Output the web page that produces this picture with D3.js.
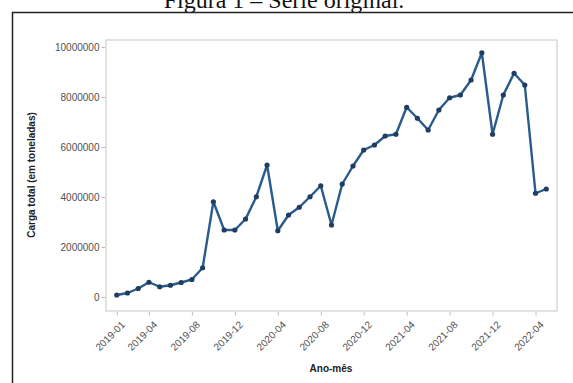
<!DOCTYPE html>
<html>
<head>
<meta charset="utf-8">
<script src="https://cdn.jsdelivr.net/npm/d3@7"></script>
<style>
  html, body { margin: 0; padding: 0; background: #fff; }
  svg { display: block; }
</style>
</head>
<body>
<svg id="chart" width="573" height="383"></svg>
<script>
// Monthly total cargo, Jan 2019 – May 2022
const months = [
  "2019-01","2019-02","2019-03","2019-04","2019-05","2019-06","2019-07","2019-08","2019-09","2019-10","2019-11","2019-12",
  "2020-01","2020-02","2020-03","2020-04","2020-05","2020-06","2020-07","2020-08","2020-09","2020-10","2020-11","2020-12",
  "2021-01","2021-02","2021-03","2021-04","2021-05","2021-06","2021-07","2021-08","2021-09","2021-10","2021-11","2021-12",
  "2022-01","2022-02","2022-03","2022-04","2022-05"
];
const cargo = [
  80000, 160000, 340000, 590000, 410000, 470000, 580000, 700000, 1170000, 3810000, 2680000, 2680000,
  3120000, 4010000, 5280000, 2650000, 3280000, 3590000, 4010000, 4450000, 2880000, 4520000, 5240000, 5880000,
  6080000, 6440000, 6510000, 7590000, 7150000, 6680000, 7480000, 7970000, 8080000, 8680000, 9770000, 6510000,
  8080000, 8950000, 8480000, 4150000, 4320000
];
const xTicks = ["2019-01","2019-04","2019-08","2019-12","2020-04","2020-08","2020-12","2021-04","2021-08","2021-12","2022-04"];
const yTicks = [0, 2000000, 4000000, 6000000, 8000000, 10000000];

const title = "Figura 1 – Série original.";
const xTitle = "Ano-mês";
const yTitle = "Carga total (em toneladas)";

const svg = d3.select("#chart");
const panel = { left: 106, right: 557, top: 40, bottom: 311 };

// caption sitting above the framed figure
svg.append("text")
  .attr("x", 284).attr("y", 8)
  .attr("text-anchor", "middle")
  .attr("font-family", "'Liberation Serif', 'Times New Roman', serif")
  .attr("font-size", 24)
  .attr("fill", "#111")
  .text(title);

// frame around the figure
svg.append("rect")
  .attr("x", 12.5).attr("y", 12.5)
  .attr("width", 620).attr("height", 420)
  .attr("fill", "none")
  .attr("stroke", "#222")
  .attr("stroke-width", 1.5);

const x = d3.scalePoint()
  .domain(months)
  .range([panel.left, panel.right])
  .padding(1);

const y = d3.scaleLinear()
  .domain([0, 10000000])
  .range([297, 47]);

// panel border
svg.append("rect")
  .attr("x", panel.left).attr("y", panel.top)
  .attr("width", panel.right - panel.left)
  .attr("height", panel.bottom - panel.top)
  .attr("fill", "#fff")
  .attr("stroke", "#cfcfcf")
  .attr("stroke-width", 1.2);

const font = "'Liberation Sans', Arial, sans-serif";

// y axis
const gy = svg.append("g")
  .attr("transform", `translate(${panel.left - 1},0)`)
  .call(d3.axisLeft(y).tickValues(yTicks).tickFormat(d3.format("d")).tickSize(3.5).tickPadding(2));
gy.select(".domain").remove();
gy.selectAll(".tick line").attr("stroke", "#bdbdbd");
gy.selectAll(".tick text")
  .attr("font-family", font).attr("font-size", 10).attr("fill", "#505050");

// x axis
const gx = svg.append("g")
  .attr("transform", `translate(0,${panel.bottom + 1})`)
  .call(d3.axisBottom(x).tickValues(xTicks).tickSize(3.5).tickPadding(2));
gx.select(".domain").remove();
gx.selectAll(".tick line").attr("stroke", "#bdbdbd");
gx.selectAll(".tick text")
  .attr("font-family", font).attr("font-size", 10).attr("fill", "#505050")
  .attr("text-anchor", "end")
  .attr("dy", "0.35em")
  .attr("transform", "translate(2,7) rotate(-45)");

// axis titles
svg.append("text")
  .attr("x", 331).attr("y", 372)
  .attr("text-anchor", "middle")
  .attr("font-family", font).attr("font-size", 10).attr("font-weight", "bold")
  .attr("fill", "#222")
  .text(xTitle);

svg.append("text")
  .attr("transform", "translate(35,175) rotate(-90)")
  .attr("text-anchor", "middle")
  .attr("font-family", font).attr("font-size", 10).attr("font-weight", "bold")
  .attr("fill", "#222")
  .text(yTitle);

// series
const line = d3.line()
  .x((d, i) => x(months[i]))
  .y(d => y(d));

svg.append("path")
  .datum(cargo)
  .attr("fill", "none")
  .attr("stroke", "#2a5b8c")
  .attr("stroke-width", 2.4)
  .attr("stroke-linejoin", "round")
  .attr("d", line);

svg.append("g").selectAll("circle")
  .data(cargo)
  .join("circle")
  .attr("cx", (d, i) => x(months[i]))
  .attr("cy", d => y(d))
  .attr("r", 2.6)
  .attr("fill", "#1f3d63");
</script>
</body>
</html>
